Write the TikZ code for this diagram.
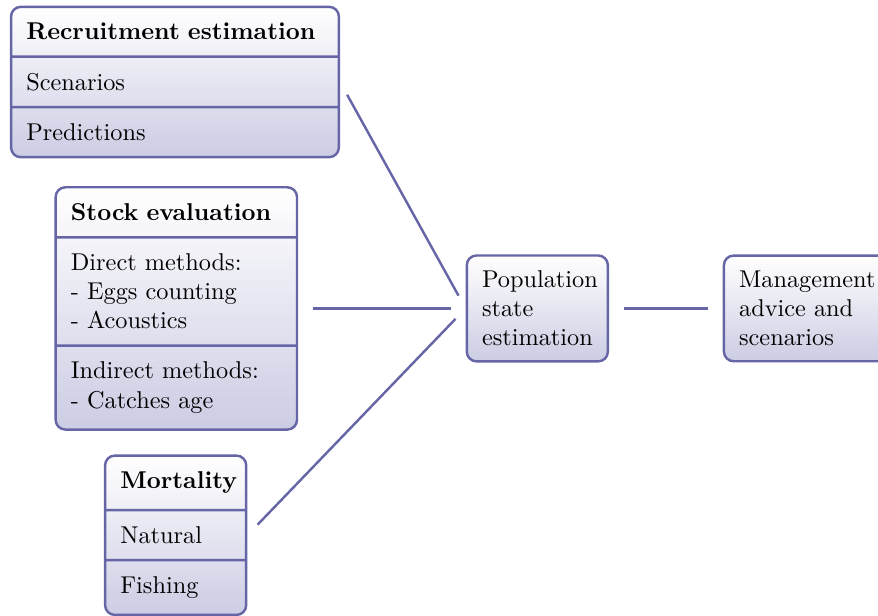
\documentclass[tikz,border=0pt]{standalone}
\usetikzlibrary{shapes.multipart}
\definecolor{boxline}{RGB}{102,102,166}
\definecolor{boxshade}{RGB}{204,204,228}
\tikzset{
  basebox/.style={draw=boxline, line width=1pt, rounded corners=4pt,
    top color=white, bottom color=boxshade, align=left, inner sep=2.2mm},
  splitbox/.style={basebox, rectangle split, rectangle split parts=3,
    rectangle split part align={left}},
  plainbox/.style={basebox, text width=1.6cm},
  link/.style={draw=boxline, line width=1pt, shorten >=6pt, shorten <=6pt}
}
\begin{document}
\begin{tikzpicture}
  \useasboundingbox (0,0) rectangle (12.696,-8.907);
  % input boxes
  \node[splitbox, text width=4.3cm] (recruit) at (2.53,-1.186)
    {\textbf{Recruitment estimation}
     \nodepart{two}Scenarios
     \nodepart{three}Predictions};
  \node[splitbox, text width=3.05cm] (stock) at (2.55,-4.46)
    {\textbf{Stock evaluation}
     \nodepart{two}Direct methods:\\- Eggs counting\\- Acoustics
     \nodepart{three}Indirect methods:\\- Catches age};
  \node[splitbox, text width=1.6cm] (mort) at (2.54,-7.74)
    {\textbf{Mortality}
     \nodepart{two}Natural
     \nodepart{three}Fishing};
  % estimation and advice
  \node[plainbox] (pop) at (7.77,-4.46) {Population\\state\\estimation};
  \node[plainbox, text width=2.1cm, anchor=west] (advice) at (10.45,-4.46)
    {Management\\advice and\\scenarios};
  % links
  \draw[link] (recruit.east) -- (pop.west);
  \draw[link] (stock.east) -- (pop.west);
  \draw[link] (mort.east) -- (pop.west);
  \draw[link] (pop.east) -- (advice.west);
\end{tikzpicture}
\end{document}
